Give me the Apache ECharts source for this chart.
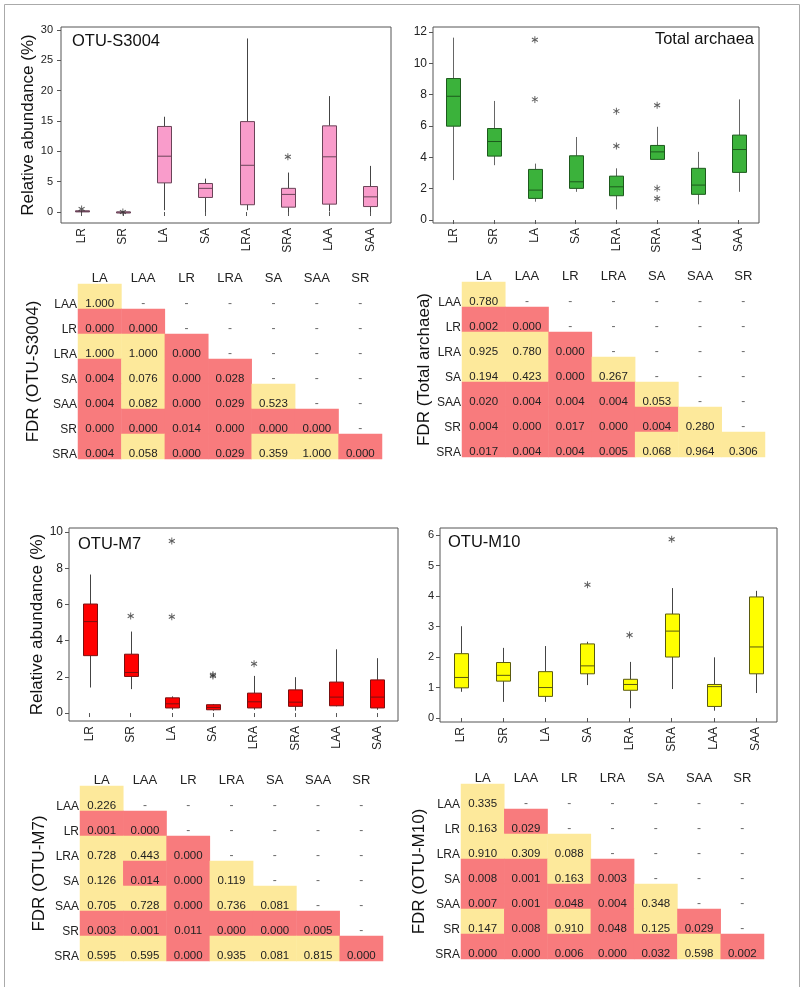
<!DOCTYPE html>
<html>
<head>
<meta charset="utf-8">
<script src="https://cdn.jsdelivr.net/npm/echarts@6/dist/echarts.min.js"></script>
<style>html,body{margin:0;background:#fff}#main{width:800px;height:987px}</style>
</head>
<body>
<div id="main"></div>
<script>
// 分组
const groups = ['LR', 'SR', 'LA', 'SA', 'LRA', 'SRA', 'LAA', 'SAA'];
// 箱线图数据 [min, q1, median, q3, max]
const boxS3004 = [[0, 0.02, 0.1, 0.2, 0.3], [0, 0, 0, 0, 0], [0.3, 4.8, 9.2, 14.1, 15.7], [0, 2.4, 3.9, 4.7, 5.5],
  [0.3, 1.2, 7.7, 14.9, 28.6], [0, 0.8, 2.9, 3.9, 6.5], [0.1, 1.3, 9.1, 14.2, 19.1], [0, 0.9, 2.5, 4.2, 7.6]];
const outS3004 = [['LR', 0.5], ['SR', 0], ['SRA', 9.1]];

const boxArchaea = [[2.55, 5.99, 7.9, 9.03, 11.64], [3.5, 4.08, 5.01, 5.84, 7.6], [1.17, 1.38, 1.91, 3.23, 3.6], [1.8, 2.02, 2.44, 4.1, 5.3],
  [0.68, 1.55, 2.12, 2.8, 3.3], [3.85, 3.87, 4.35, 4.76, 5.95], [1.0, 1.64, 2.23, 3.3, 4.35], [1.8, 3.04, 4.5, 5.42, 7.7]];
const outArchaea = [['LA', 11.5], ['LA', 7.7], ['LRA', 6.95], ['LRA', 4.72], ['SRA', 7.33], ['SRA', 2.02], ['SRA', 1.38]];

const boxM7 = [[1.41, 3.17, 5.05, 6.02, 7.65], [1.32, 2.02, 2.24, 3.25, 4.5], [0.18, 0.28, 0.51, 0.84, 0.92], [0.13, 0.18, 0.31, 0.46, 0.5],
  [0.18, 0.28, 0.62, 1.1, 2.05], [0.13, 0.37, 0.6, 1.28, 1.98], [0.37, 0.4, 0.88, 1.71, 3.52], [0.18, 0.28, 0.88, 1.83, 3.03]];
const outM7 = [['SR', 5.36], ['LA', 9.5], ['LA', 5.32], ['SA', 2.11], ['SA', 2.05], ['LRA', 2.72]];

const boxM10 = [[0.86, 0.99, 1.33, 2.11, 3.01], [0.53, 1.21, 1.4, 1.82, 2.3], [0.53, 0.71, 1.0, 1.52, 2.36], [1.08, 1.45, 1.71, 2.43, 2.5],
  [0.32, 0.91, 1.1, 1.27, 1.84], [0.95, 2.0, 2.85, 3.41, 4.26], [0.24, 0.38, 1.03, 1.1, 1.99], [0.82, 1.45, 2.33, 3.97, 4.17]];
const outM10 = [['SA', 4.37], ['LRA', 2.72], ['SRA', 5.86]];

// FDR 下三角表
const fdrCols = ['LA', 'LAA', 'LR', 'LRA', 'SA', 'SAA', 'SR'];
const fdrRows = ['LAA', 'LR', 'LRA', 'SA', 'SAA', 'SR', 'SRA'];
const fdrS3004 = [
  [1.000],
  [0.000, 0.000],
  [1.000, 1.000, 0.000],
  [0.004, 0.076, 0.000, 0.028],
  [0.004, 0.082, 0.000, 0.029, 0.523],
  [0.000, 0.000, 0.014, 0.000, 0.000, 0.000],
  [0.004, 0.058, 0.000, 0.029, 0.359, 1.000, 0.000]
];
const fdrArchaea = [
  [0.780],
  [0.002, 0.000],
  [0.925, 0.780, 0.000],
  [0.194, 0.423, 0.000, 0.267],
  [0.020, 0.004, 0.004, 0.004, 0.053],
  [0.004, 0.000, 0.017, 0.000, 0.004, 0.280],
  [0.017, 0.004, 0.004, 0.005, 0.068, 0.964, 0.306]
];
const fdrM7 = [
  [0.226],
  [0.001, 0.000],
  [0.728, 0.443, 0.000],
  [0.126, 0.014, 0.000, 0.119],
  [0.705, 0.728, 0.000, 0.736, 0.081],
  [0.003, 0.001, 0.011, 0.000, 0.000, 0.005],
  [0.595, 0.595, 0.000, 0.935, 0.081, 0.815, 0.000]
];
const fdrM10 = [
  [0.335],
  [0.163, 0.029],
  [0.910, 0.309, 0.088],
  [0.008, 0.001, 0.163, 0.003],
  [0.007, 0.001, 0.048, 0.004, 0.348],
  [0.147, 0.008, 0.910, 0.048, 0.125, 0.029],
  [0.000, 0.000, 0.006, 0.000, 0.032, 0.598, 0.002]
];

const FONT = 'Liberation Sans, Arial, sans-serif';

// 面板布局
const panels = [
  { title: 'OTU-S3004', box: boxS3004, out: outS3004, fdr: fdrS3004, fdrName: 'FDR (OTU-S3004)',
    grid: { left: 61, top: 27, width: 330, height: 196 }, min: -1.81, max: 30.49, ticks: [0, 5, 10, 15, 20, 25, 30],
    tickFont: 11, tickMargin: 8, yName: 'Relative abundance (%)', yGap: 22,
    titlePos: { left: 72, top: 33 }, fill: '#f99ccb', stroke: '#6a4458', whisker: '#444',
    table: { left: 78, top: 284, width: 304, height: 175 }, fdrGap: 36 },
  { title: 'Total archaea', box: boxArchaea, out: outArchaea, fdr: fdrArchaea, fdrName: 'FDR (Total archaea)',
    grid: { left: 433, top: 27, width: 326, height: 196 }, min: -0.19, max: 12.32, ticks: [0, 2, 4, 6, 8, 10, 12],
    tickFont: 12, tickMargin: 6, yName: '', yGap: 22,
    titlePos: { right: 46, top: 31 }, fill: '#3bb23b', stroke: '#1d5a1d', whisker: '#666',
    table: { left: 462, top: 282, width: 303, height: 175 }, fdrGap: 29 },
  { title: 'OTU-M7', box: boxM7, out: outM7, fdr: fdrM7, fdrName: 'FDR (OTU-M7)',
    grid: { left: 69, top: 528, width: 329, height: 193 }, min: -0.44, max: 10.22, ticks: [0, 2, 4, 6, 8, 10],
    tickFont: 12, tickMargin: 6, yName: 'Relative abundance (%)', yGap: 22,
    titlePos: { left: 78, top: 536 }, fill: '#ff0000', stroke: '#7a1010', whisker: '#444',
    table: { left: 80, top: 786, width: 303, height: 175 }, fdrGap: 32 },
  { title: 'OTU-M10', box: boxM10, out: outM10, fdr: fdrM10, fdrName: 'FDR (OTU-M10)',
    grid: { left: 440, top: 528, width: 337, height: 194 }, min: -0.13, max: 6.23, ticks: [0, 1, 2, 3, 4, 5, 6],
    tickFont: 11, tickMargin: 6, yName: '', yGap: 22,
    titlePos: { left: 448, top: 534 }, fill: '#ffff00', stroke: '#5a5a10', whisker: '#444',
    table: { left: 461, top: 784, width: 303, height: 175 }, fdrGap: 33 }
];

// 自定义箱线图（无须端横线）
function renderBox(fill, stroke, whisker) {
  return function (params, api) {
    const x = api.value(0);
    const pMin = api.coord([x, api.value(1)]);
    const pQ1 = api.coord([x, api.value(2)]);
    const pMed = api.coord([x, api.value(3)]);
    const pQ3 = api.coord([x, api.value(4)]);
    const pMax = api.coord([x, api.value(5)]);
    const w = 14, cx = Math.round(pMed[0]) + 0.5;
    return {
      type: 'group',
      children: [
        { type: 'line', shape: { x1: cx, y1: pMax[1], x2: cx, y2: pQ3[1] }, style: { stroke: whisker, lineWidth: 1 } },
        { type: 'line', shape: { x1: cx, y1: pQ1[1], x2: cx, y2: pMin[1] }, style: { stroke: whisker, lineWidth: 1 } },
        { type: 'rect', shape: { x: cx - w / 2, y: pQ3[1], width: w, height: Math.max(pQ1[1] - pQ3[1], 1) },
          style: { fill: fill, stroke: stroke, lineWidth: 1 } },
        { type: 'line', shape: { x1: cx - w / 2, y1: pMed[1], x2: cx + w / 2, y2: pMed[1] }, style: { stroke: stroke, lineWidth: 1 } }
      ]
    };
  };
}

const grids = [], xAxes = [], yAxes = [], series = [], titles = [], heatIdx = [];

panels.forEach((p, k) => {
  // 箱线图
  const gi = grids.length;
  grids.push(Object.assign({ show: true, borderColor: '#555', borderWidth: 1, backgroundColor: 'transparent', outerBoundsMode: 'none' }, p.grid));
  xAxes.push({
    gridIndex: gi, type: 'category', data: groups,
    axisLine: { show: false },
    axisTick: { show: true, alignWithLabel: true, length: 4, lineStyle: { color: '#555' } },
    axisLabel: { rotate: 90, fontSize: 12, color: '#222', margin: 5 },
    splitLine: { show: false }
  });
  yAxes.push({
    gridIndex: gi, type: 'value', min: p.min, max: p.max,
    axisLine: { show: false },
    axisTick: { show: true, length: 4, customValues: p.ticks, lineStyle: { color: '#555' } },
    axisLabel: { customValues: p.ticks, fontSize: p.tickFont, color: '#222', margin: p.tickMargin },
    splitLine: { show: false },
    name: p.yName, nameLocation: 'middle', nameGap: p.yGap,
    nameTextStyle: { fontSize: 17, color: '#111' }
  });
  series.push({
    type: 'custom', xAxisIndex: gi, yAxisIndex: gi,
    renderItem: renderBox(p.fill, p.stroke, p.whisker),
    encode: { x: 0, y: [1, 2, 3, 4, 5] },
    data: p.box.map((b, i) => [i].concat(b)),
    z: 2
  });
  series.push({
    type: 'scatter', xAxisIndex: gi, yAxisIndex: gi,
    symbol: 'path://M5,0L5,10M0.7,2.5L9.3,7.5M0.7,7.5L9.3,2.5', symbolSize: [6, 7],
    itemStyle: { color: 'rgba(0,0,0,0)', borderColor: '#333', borderWidth: 1 },
    data: p.out, z: 3
  });
  titles.push(Object.assign({ text: p.title, padding: 0,
    textStyle: { fontSize: 16.5, fontWeight: 'normal', color: '#111', fontFamily: FONT } }, p.titlePos));

  // FDR 表
  const ti = grids.length;
  grids.push(Object.assign({ show: false, outerBoundsMode: 'none' }, p.table));
  xAxes.push({
    gridIndex: ti, type: 'category', position: 'top', data: fdrCols,
    axisLine: { show: false }, axisTick: { show: false },
    axisLabel: { fontSize: 13, color: '#222', margin: -1 },
    splitLine: { show: false }, splitArea: { show: false }
  });
  yAxes.push({
    gridIndex: ti, type: 'category', inverse: true, data: fdrRows,
    axisLine: { show: false }, axisTick: { show: false },
    axisLabel: { fontSize: 12, color: '#222', margin: 1, verticalAlign: 'top', lineHeight: 16 },
    splitLine: { show: false }, splitArea: { show: false },
    name: p.fdrName, nameLocation: 'middle', nameGap: p.fdrGap,
    nameTextStyle: { fontSize: 17, color: '#111', verticalAlign: 'bottom' }
  });
  const cells = [], dashes = [];
  fdrRows.forEach((r, ri) => {
    fdrCols.forEach((c, ci) => {
      if (ci <= ri) cells.push([ci, ri, p.fdr[ri][ci]]);
      else dashes.push([ci, ri]);
    });
  });
  heatIdx.push(series.length);
  series.push({
    type: 'heatmap', xAxisIndex: ti, yAxisIndex: ti, data: cells,
    itemStyle: { borderWidth: 0 },
    label: { show: true, fontSize: 11.5, color: '#222', offset: [0, 7],
      formatter: pr => pr.value[2].toFixed(3) },
    emphasis: { disabled: true }
  });
  series.push({
    type: 'scatter', xAxisIndex: ti, yAxisIndex: ti, data: dashes,
    symbolSize: 0,
    label: { show: true, position: 'inside', formatter: '-', fontSize: 12, color: '#444', offset: [0, 7] }
  });
});

const chart = echarts.init(document.getElementById('main'));
chart.setOption({
  animation: false,
  backgroundColor: '#fff',
  textStyle: { fontFamily: FONT },
  title: titles,
  grid: grids,
  xAxis: xAxes,
  yAxis: yAxes,
  visualMap: {
    type: 'piecewise', show: false, dimension: 2, seriesIndex: heatIdx,
    pieces: [{ lt: 0.05, color: '#f87b7d' }, { gte: 0.05, color: '#fde99b' }]
  },
  graphic: [{
    type: 'rect', left: 2, top: 2, silent: true,
    shape: { width: 795, height: 983 },
    style: { fill: 'none', stroke: '#aaa', lineWidth: 1 }
  }],
  series: series
});
</script>
</body>
</html>
